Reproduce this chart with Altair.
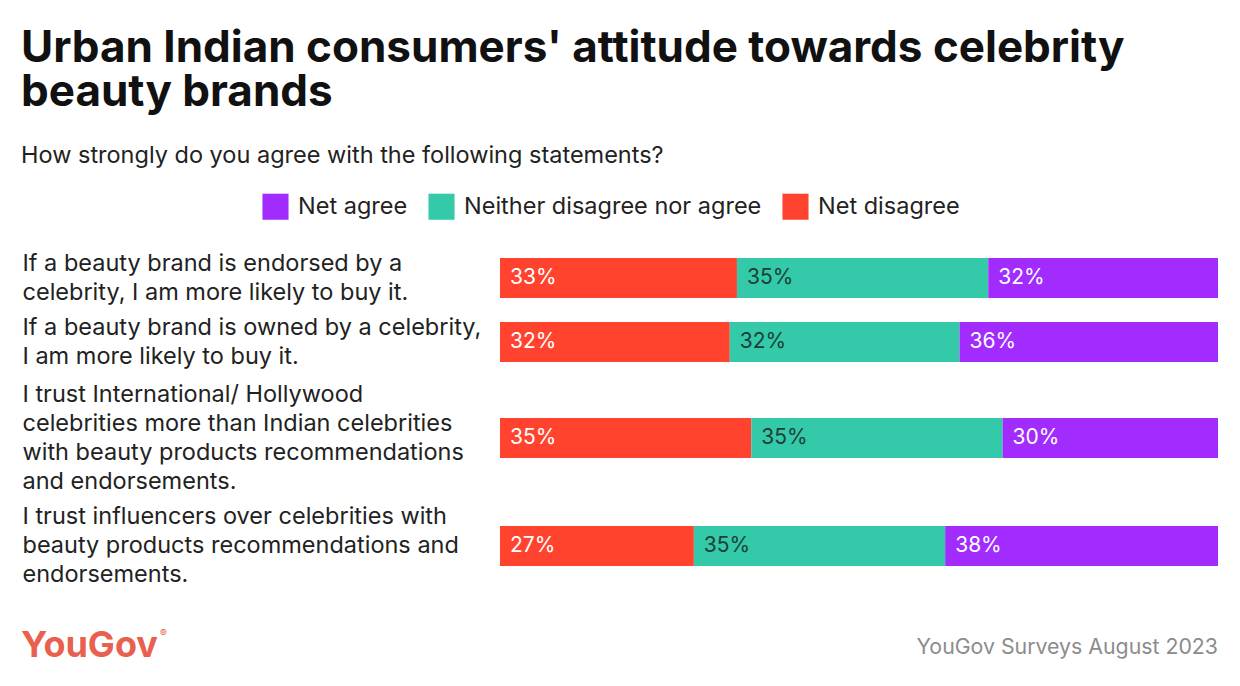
import altair as alt
import pandas as pd

statements = [
    "If a beauty brand is endorsed by a|celebrity, I am more likely to buy it.",
    "If a beauty brand is owned by a celebrity,|I am more likely to buy it.",
    "I trust International/ Hollywood|celebrities more than Indian celebrities|with beauty products recommendations|and endorsements.",
    "I trust influencers over celebrities with|beauty products recommendations and|endorsements.",
]
categories = ["Net disagree", "Neither disagree nor agree", "Net agree"]
legend_order = ["Net agree", "Neither disagree nor agree", "Net disagree"]
net_disagree = [33, 32, 35, 27]
neither = [35, 32, 35, 35]
net_agree = [32, 36, 30, 38]
colors = {"Net agree": "#a22bfe", "Neither disagree nor agree": "#33c9a9", "Net disagree": "#ff432e"}
panel_heights = [64, 64, 128, 88]
LINE_H = 29

rows = []
for i, s in enumerate(statements):
    for j, (c, v) in enumerate(zip(categories, [net_disagree[i], neither[i], net_agree[i]])):
        rows.append({"statement": s, "idx": i, "category": c, "order": j, "value": v,
                     "label": f"{v}%"})
df = pd.DataFrame(rows)

FONT = "Inter"

color_scale = alt.Scale(domain=legend_order, range=[colors[k] for k in legend_order])


def panel(i):
    nlines = statements[i].count("|") + 1
    base = alt.Chart(df).transform_filter(alt.datum.idx == i).transform_window(
        cum="sum(value)", groupby=["statement"], sort=[alt.SortField("order")]
    ).transform_calculate(start="datum.cum - datum.value")
    y = alt.Y("statement:N", title=None,
              axis=alt.Axis(labelExpr="split(datum.label, '|')", labelAlign="left",
                            labelPadding=478, ticks=False, domain=False,
                            labelFontSize=23.5, labelLineHeight=LINE_H, labelFont=FONT,
                            labelColor="#222222", labelBaseline="middle", labelLimit=0,
                            labelOffset=-(nlines - 1) * LINE_H / 2))
    x = alt.X("start:Q", scale=alt.Scale(domain=[0, 100]), axis=None)
    bars = base.mark_bar(size=40).encode(
        x=x, x2="cum:Q", y=y,
        color=alt.Color("category:N", scale=color_scale,
                        legend=alt.Legend(title=None, orient="none", direction="horizontal",
                                          legendX=-238, legendY=-53, symbolType="square",
                                          symbolSize=680, symbolStrokeWidth=0,
                                          labelFontSize=23.5, labelFont=FONT, labelLimit=0,
                                          labelOffset=9,
                                          labelColor="#222222", columnPadding=20,
                                          symbolOpacity=1)),
    )
    texts = base.mark_text(align="left", dx=10, fontSize=21, font=FONT, baseline="middle").encode(
        x=x, y=y, text="label:N",
        color=alt.condition(alt.datum.category == "Neither disagree nor agree",
                            alt.value("#1d3f36"), alt.value("#ffffff")),
    )
    layers = [bars, texts]
    if i == len(statements) - 1:
        logo = alt.Chart(pd.DataFrame({"t": ["YouGov"]})).mark_text(
            align="left", baseline="alphabetic", fontSize=36, fontWeight="bold",
            font=FONT, color="#e9604f"
        ).encode(x=alt.value(-479), y=alt.value(155), text="t:N")
        reg = alt.Chart(pd.DataFrame({"t": ["®"]})).mark_text(
            align="left", baseline="alphabetic", fontSize=10,
            font=FONT, color="#e9604f"
        ).encode(x=alt.value(-340), y=alt.value(135), text="t:N")
        src = alt.Chart(pd.DataFrame({"t": ["YouGov Surveys August 2023"]})).mark_text(
            align="right", baseline="alphabetic", fontSize=21.3, font=FONT, color="#8c8c8c"
        ).encode(x=alt.value(718), y=alt.value(152), text="t:N")
        layers += [logo, reg, src]
    return alt.layer(*layers).properties(width=718, height=panel_heights[i])


chart = alt.vconcat(*[panel(i) for i in range(len(statements))], spacing=0).properties(
    title=alt.Title(
        ["Urban Indian consumers' attitude towards celebrity", "beauty brands"],
        subtitle="How strongly do you agree with the following statements?",
        anchor="start", font=FONT, fontSize=44, fontWeight="bold", color="#111111",
        lineHeight=44, subtitleFont=FONT, subtitleFontSize=23.5, subtitleColor="#222222",
        subtitlePadding=29, offset=26,
    ),
    padding={"left": 13, "top": 18, "right": 10, "bottom": 10},
).configure_view(stroke=None)

chart.save("out.html", embed_options={"renderer": "svg", "actions": False})
